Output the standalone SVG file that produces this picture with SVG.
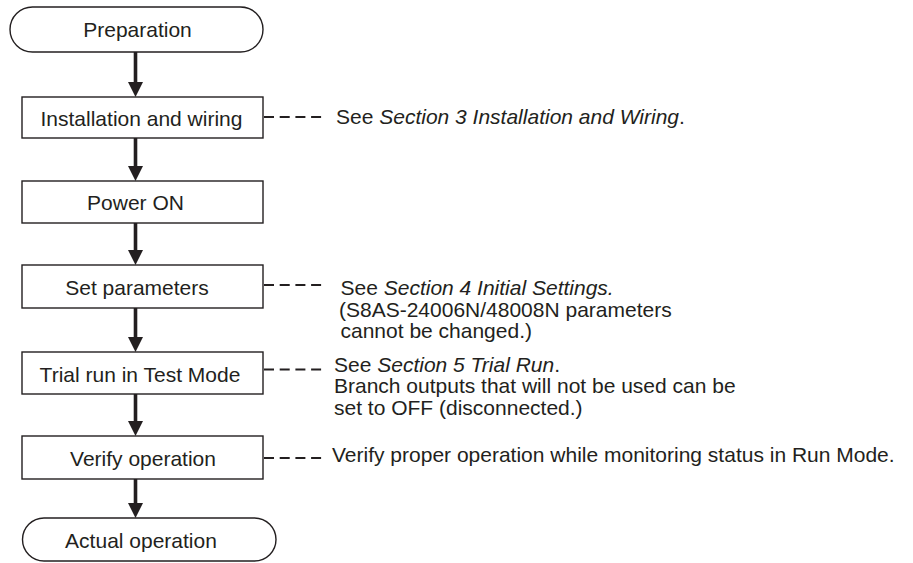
<svg xmlns="http://www.w3.org/2000/svg" width="913" height="563" viewBox="0 0 913 563">
<style>
.box{fill:#fff;stroke:#231f20;stroke-width:1.4}
.t{font-family:"Liberation Sans",Arial,sans-serif;font-size:21px;fill:#231f20}
.c{text-anchor:middle}
.i{font-style:italic}
.arr{stroke:#231f20;stroke-width:3.6;fill:none}
.dash{stroke:#231f20;stroke-width:2;stroke-dasharray:10 5.7;fill:none}
</style>
<defs>
<marker id="ah" markerUnits="userSpaceOnUse" markerWidth="16" markerHeight="16" refX="0.5" refY="7.5" orient="auto">
<path d="M0,0 L15,7.5 L0,15 z" fill="#231f20"/>
</marker>
</defs>
<rect width="913" height="563" fill="#fff"/>
<g id="connectors">
<line class="arr" x1="135.5" y1="52" x2="135.5" y2="82.5" marker-end="url(#ah)"/>
<line class="arr" x1="135.5" y1="138" x2="135.5" y2="166.5" marker-end="url(#ah)"/>
<line class="arr" x1="135.5" y1="223" x2="135.5" y2="250.5" marker-end="url(#ah)"/>
<line class="arr" x1="135.5" y1="308" x2="135.5" y2="337.5" marker-end="url(#ah)"/>
<line class="arr" x1="135.5" y1="394" x2="135.5" y2="421.5" marker-end="url(#ah)"/>
<line class="arr" x1="135.5" y1="479" x2="135.5" y2="503.5" marker-end="url(#ah)"/>
<line class="dash" x1="264" y1="117" x2="322" y2="117"/>
<line class="dash" x1="264" y1="285" x2="322" y2="285"/>
<line class="dash" x1="264" y1="369.5" x2="322" y2="369.5"/>
<line class="dash" x1="264" y1="458" x2="322" y2="458"/>
</g>
<g id="preparation">
<rect class="box" x="10" y="7" width="253" height="45" rx="22.5" ry="22.5"/>
<text class="t c" x="137.5" y="37">Preparation</text>
</g>
<g id="installation">
<rect class="box" x="22" y="97" width="241" height="41"/>
<text class="t c" x="141.5" y="125.5">Installation and wiring</text>
</g>
<g id="power-on">
<rect class="box" x="22" y="181" width="241" height="42"/>
<text class="t c" x="135.5" y="209.5">Power ON</text>
</g>
<g id="set-parameters">
<rect class="box" x="22" y="265" width="241" height="43"/>
<text class="t c" x="137" y="295">Set parameters</text>
</g>
<g id="trial-run">
<rect class="box" x="22" y="352" width="241" height="42"/>
<text class="t c" x="140" y="381.5">Trial run in Test Mode</text>
</g>
<g id="verify">
<rect class="box" x="22" y="436" width="241" height="43"/>
<text class="t c" x="143" y="466">Verify operation</text>
</g>
<g id="actual">
<rect class="box" x="22.5" y="518" width="253.5" height="43" rx="21.5" ry="21.5"/>
<text class="t c" x="141" y="548">Actual operation</text>
</g>
<g id="note-installation">
<text class="t" x="336" y="124">See <tspan class="i">Section 3 Installation and Wiring</tspan>.</text>
</g>
<g id="note-parameters">
<text class="t" x="340.5" y="295">See <tspan class="i">Section 4 Initial Settings.</tspan></text>
<text class="t" x="339" y="316.5">(S8AS-24006N/48008N parameters</text>
<text class="t" x="340.5" y="338">cannot be changed.)</text>
</g>
<g id="note-trial">
<text class="t" x="334" y="371.5">See <tspan class="i">Section 5 Trial Run</tspan>.</text>
<text class="t" x="334" y="392.5">Branch outputs that will not be used can be</text>
<text class="t" x="334" y="414.5">set to OFF (disconnected.)</text>
</g>
<g id="note-verify">
<text class="t" x="332" y="462">Verify proper operation while monitoring status in Run Mode.</text>
</g>
</svg>
